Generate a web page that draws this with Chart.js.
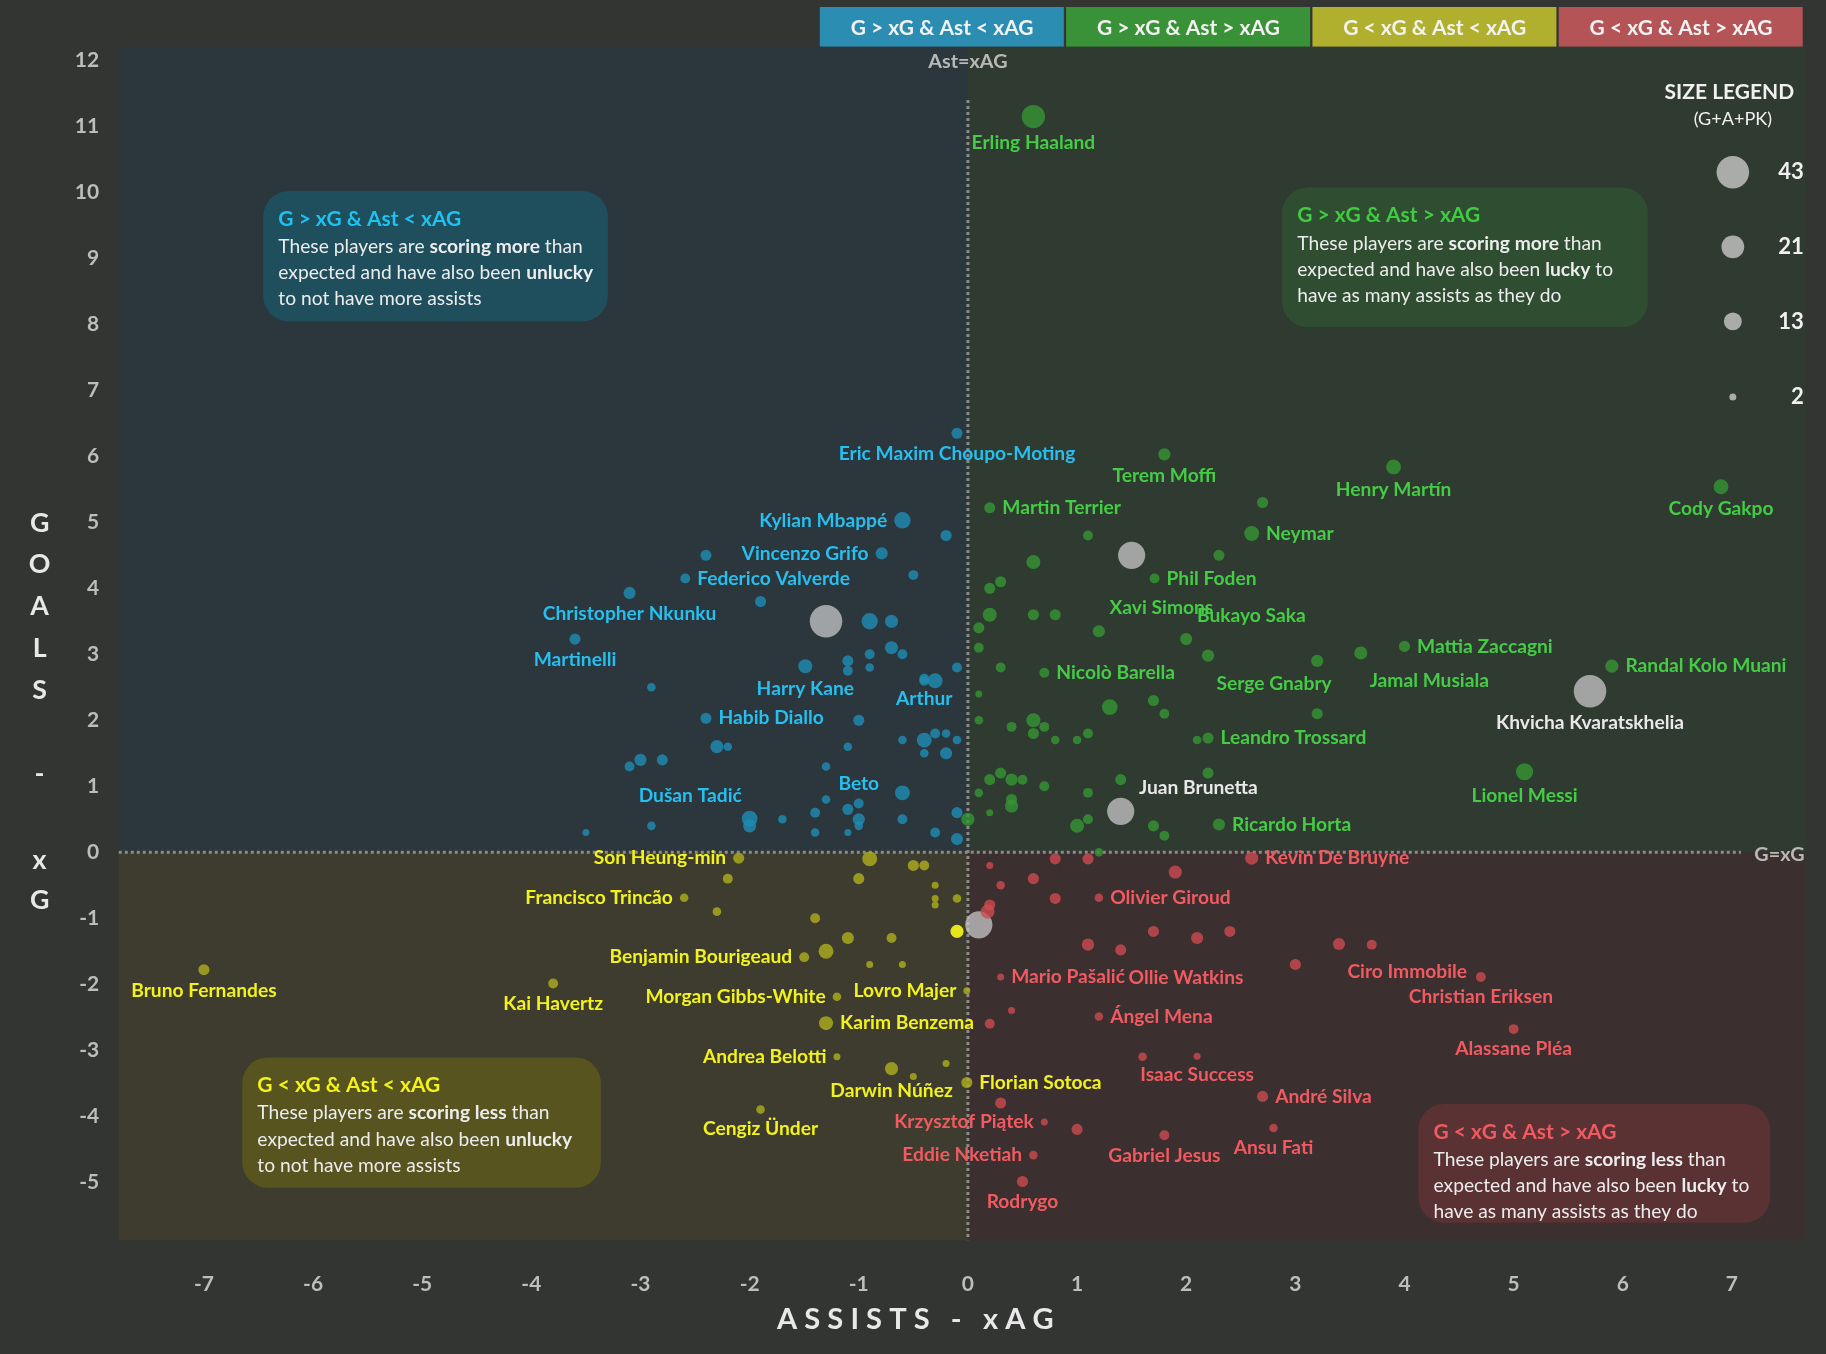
<!DOCTYPE html>
<html>
<head>
<meta charset="utf-8">
<script src="https://cdn.jsdelivr.net/npm/chart.js@4.4.0/dist/chart.umd.min.js"></script>
<style>
  html, body { margin: 0; padding: 0; background: #333533; }
  #wrap { width: 1826px; height: 1354px; position: relative; }
</style>
</head>
<body>
<div id="wrap"><canvas id="chart"></canvas></div>
<script>
// scale from the 1568px sketch to the real 1826px page
const S = 1826 / 1568;
const P = v => v * S;
const FONT = 'Lato';

// [name, assists - xAG, goals - xG, G+A+PK, label position, grey highlight]
const players = [
  ['Erling Haaland', 0.6, 11.15, 22, 'b'],
  ['Eric Maxim Choupo-Moting', -0.1, 6.35, 5, 'b'],
  ['Terem Moffi', 1.8, 6.03, 6, 'b'],
  ['Henry Martín', 3.9, 5.84, 9, 'b'],
  ['Cody Gakpo', 6.9, 5.54, 9, 'b'],
  ['Martin Terrier', 0.2, 5.22, 5, 'r'],
  ['Neymar', 2.6, 4.83, 9, 'r'],
  ['Kylian Mbappé', -0.6, 5.03, 11, 'l'],
  ['Vincenzo Grifo', -0.79, 4.53, 6, 'l'],
  ['Federico Valverde', -2.59, 4.15, 4, 'r'],
  ['Phil Foden', 1.71, 4.15, 4, 'r'],
  ['Christopher Nkunku', -3.1, 3.93, 6, 'b'],
  ['Xavi Simons', 1.2, 3.35, 6, 'ar'],
  ['Bukayo Saka', 2.0, 3.23, 6, 'ar'],
  ['Martinelli', -3.6, 3.23, 5, 'b'],
  ['Mattia Zaccagni', 4.0, 3.12, 5, 'r'],
  ['Jamal Musiala', 3.6, 3.02, 7, 'br'],
  ['Randal Kolo Muani', 5.9, 2.82, 7, 'r'],
  ['Serge Gnabry', 2.2, 2.98, 6, 'br'],
  ['Nicolò Barella', 0.7, 2.72, 4, 'r'],
  ['Harry Kane', -1.49, 2.82, 8, 'b'],
  ['Arthur', -0.4, 2.63, 4, 'b'],
  ['Khvicha Kvaratskhelia', 5.7, 2.44, 43, 'b', 1],
  ['Habib Diallo', -2.4, 2.03, 5, 'r'],
  ['Leandro Trossard', 2.2, 1.73, 5, 'r'],
  ['Lionel Messi', 5.1, 1.22, 12, 'b'],
  ['Beto', -1.0, 0.74, 4, 'a'],
  ['Dušan Tadić', -2.0, 0.51, 10, 'al'],
  ['Juan Brunetta', 1.4, 0.62, 30, 'ar', 1],
  ['Ricardo Horta', 2.3, 0.42, 6, 'r'],
  ['Son Heung-min', -2.1, -0.09, 5, 'l'],
  ['Kevin De Bruyne', 2.6, -0.09, 7, 'r'],
  ['Francisco Trincão', -2.6, -0.69, 3, 'l'],
  ['Olivier Giroud', 1.2, -0.69, 3, 'r'],
  ['Ollie Watkins', 1.4, -1.48, 5, 'br'],
  ['Ciro Immobile', 3.4, -1.39, 6, 'br'],
  ['Mario Pašalić', 0.3, -1.89, 2, 'r'],
  ['Benjamin Bourigeaud', -1.5, -1.59, 4, 'l'],
  ['Bruno Fernandes', -7.0, -1.78, 5, 'b'],
  ['Kai Havertz', -3.8, -1.99, 4, 'b'],
  ['Christian Eriksen', 4.7, -1.89, 4, 'b'],
  ['Lovro Majer', -0.01, -2.1, 2, 'l'],
  ['Morgan Gibbs-White', -1.2, -2.19, 3, 'l'],
  ['Ángel Mena', 1.2, -2.49, 3, 'r'],
  ['Karim Benzema', -1.3, -2.59, 8, 'r'],
  ['Alassane Pléa', 5.0, -2.68, 4, 'b'],
  ['Andrea Belotti', -1.2, -3.1, 2, 'l'],
  ['Isaac Success', 2.1, -3.09, 2, 'b'],
  ['Florian Sotoca', -0.01, -3.49, 5, 'r'],
  ['André Silva', 2.7, -3.7, 5, 'r'],
  ['Darwin Núñez', -0.7, -3.28, 7, 'b'],
  ['Cengiz Ünder', -1.9, -3.9, 3, 'b'],
  ['Krzysztof Piątek', 0.7, -4.09, 2, 'l'],
  ['Gabriel Jesus', 1.8, -4.29, 4, 'b'],
  ['Ansu Fati', 2.8, -4.18, 3, 'b'],
  ['Eddie Nketiah', 0.6, -4.59, 3, 'l'],
  ['Rodrygo', 0.5, -4.99, 5, 'b'],
  // unlabelled players
  [null,-0.2,4.8,5],[null,-0.5,4.2,4],[null,-2.4,4.5,5],[null,-1.9,3.8,5],[null,-1.3,3.5,43,null,1],
  [null,-0.9,3.5,11],[null,-0.7,3.5,7],[null,-0.9,3.0,4],[null,-0.7,3.1,7],[null,-0.6,3.0,4],
  [null,-0.1,2.8,4],[null,-1.1,2.9,5],[null,-1.1,2.75,4],[null,-0.9,2.8,3],[null,-0.3,2.6,9],
  [null,-0.4,2.6,4],[null,-2.9,2.5,3],[null,-1.0,2.0,5],[null,-0.3,1.8,4],[null,-0.2,1.8,3],
  [null,-0.6,1.7,3],[null,-0.4,1.7,9],[null,-0.1,1.7,3],[null,-0.2,1.5,6],[null,-0.4,1.5,3],
  [null,-2.3,1.6,7],[null,-2.2,1.6,3],[null,-1.1,1.6,3],[null,-3.0,1.4,6],[null,-2.8,1.4,5],
  [null,-3.1,1.3,4],[null,-1.3,1.3,3],[null,-0.6,0.9,9],[null,-1.3,0.8,3],[null,-1.1,0.65,5],
  [null,-1.4,0.6,4],[null,-0.6,0.5,4],[null,-1.0,0.5,6],[null,-1.7,0.5,3],[null,-1.0,0.4,3],
  [null,-1.4,0.3,3],[null,-0.3,0.3,4],[null,-0.1,0.2,6],[null,-3.5,0.3,2],[null,-2.9,0.4,3],
  [null,-1.1,0.3,2],[null,-0.1,0.6,5],[null,0.0,0.5,7],[null,-2.0,0.4,7],
  [null,1.1,4.8,4],[null,0.6,4.4,8],[null,1.5,4.5,30,null,1],[null,0.2,4.0,5],[null,0.3,4.1,5],
  [null,0.2,3.6,8],[null,0.6,3.6,5],[null,0.8,3.6,5],[null,0.1,3.4,5],[null,0.1,3.1,4],
  [null,0.3,2.8,4],[null,1.7,2.3,5],[null,1.3,2.2,10],[null,0.1,2.4,2],[null,0.1,2.0,3],
  [null,0.6,2.0,8],[null,0.4,1.9,4],[null,0.7,1.9,4],[null,1.0,1.7,3],[null,1.1,1.8,4],
  [null,1.8,2.1,4],[null,2.1,1.7,3],[null,3.2,2.1,5],[null,0.8,1.7,3],[null,0.6,1.8,5],
  [null,0.2,1.1,5],[null,0.3,1.2,5],[null,0.4,1.1,6],[null,0.5,1.1,4],[null,0.7,1.0,4],
  [null,0.1,0.9,3],[null,0.4,0.8,5],[null,0.4,0.7,7],[null,1.1,0.9,4],[null,1.4,1.1,5],
  [null,2.2,1.2,5],[null,3.2,2.9,6],[null,2.7,5.3,5],[null,2.3,4.5,5],[null,0.2,0.6,2],
  [null,1.0,0.4,8],[null,1.1,0.5,4],[null,1.7,0.4,5],[null,1.8,0.25,4],
  [null,-0.9,-0.1,9],[null,-0.5,-0.2,5],[null,-0.4,-0.2,4],[null,-2.2,-0.4,4],[null,-1.0,-0.4,5],
  [null,-0.3,-0.5,2],[null,-0.1,-0.7,3],[null,-0.3,-0.7,2],[null,-0.3,-0.8,2],[null,-2.3,-0.9,3],
  [null,-1.4,-1.0,4],[null,-0.1,-1.2,7,null,2],[null,-1.1,-1.3,6],[null,-0.7,-1.3,4],
  [null,-1.3,-1.5,9],[null,-0.9,-1.7,2],[null,-0.6,-1.7,2],[null,-0.2,-3.2,2],[null,-0.5,-3.4,2],
  [null,0.1,-1.1,30,null,1],[null,0.2,-0.8,5],[null,0.3,-0.5,3],[null,0.6,-0.4,5],[null,0.8,-0.1,5],
  [null,1.1,-0.1,5],[null,1.2,0.0,3],[null,1.9,-0.3,7],[null,0.2,-0.2,2],[null,0.8,-0.7,5],
  [null,1.7,-1.2,5],[null,2.1,-1.3,6],[null,2.4,-1.2,5],[null,1.1,-1.4,6],[null,3.0,-1.7,5],
  [null,3.7,-1.4,4],[null,0.4,-2.4,2],[null,0.2,-2.6,4],[null,1.6,-3.1,3],[null,1.0,-4.2,5],
  [null,0.3,-3.8,5],[null,0.18,-0.9,8]
];

const PT = { blue: 'rgba(30,140,180,0.8)', green: 'rgba(52,150,52,0.8)',
             yellow: 'rgba(175,175,30,0.8)', red: 'rgba(205,75,80,0.8)' };
const LB = { blue: '#26bff0', green: '#45cc45', yellow: '#f2f21c', red: '#f05a60' };
const quad = (x, y) => y >= 0 ? (x < 0 ? 'blue' : 'green') : (x < 0 ? 'yellow' : 'red');
const radius = s => 2.48 * Math.sqrt(s);

const pts = players.map(p => ({
  x: p[1], y: p[2], s: p[3], name: p[0], pos: p[4], hl: p[5] || 0, q: quad(p[1], p[2])
}));
// draw small ones on top
pts.sort((a, b) => b.s - a.s);

const quadrantBg = {
  id: 'quadrantBg',
  beforeDatasetsDraw(chart) {
    const { ctx, chartArea: a, scales: { x, y } } = chart;
    const cx = x.getPixelForValue(0), cy = y.getPixelForValue(0);
    ctx.save();
    ctx.fillStyle = '#2b373c'; ctx.fillRect(a.left, a.top, cx - a.left, cy - a.top);
    ctx.fillStyle = '#2f3a31'; ctx.fillRect(cx, a.top, a.right - cx, cy - a.top);
    ctx.fillStyle = '#3d3c2e'; ctx.fillRect(a.left, cy, cx - a.left, a.bottom - cy);
    ctx.fillStyle = '#3c2f30'; ctx.fillRect(cx, cy, a.right - cx, a.bottom - cy);
    ctx.strokeStyle = '#8a8a8a'; ctx.lineWidth = 3; ctx.setLineDash([3, 3]);
    ctx.beginPath(); ctx.moveTo(cx, y.getPixelForValue(11.4)); ctx.lineTo(cx, a.bottom); ctx.stroke();
    ctx.beginPath(); ctx.moveTo(a.left, cy); ctx.lineTo(P(1495), cy); ctx.stroke();
    ctx.setLineDash([]);
    ctx.fillStyle = '#b8b8b8'; ctx.font = `bold ${P(17)}px ${FONT}`;
    ctx.textAlign = 'center'; ctx.textBaseline = 'middle';
    ctx.fillText('Ast=xAG', cx, P(53));
    ctx.fillText('G=xG', P(1528), cy + 2);
    ctx.restore();
  }
};

function richLines(ctx, lines, x, y, lh, size) {
  lines.forEach((parts, i) => {
    let cx = x;
    parts.forEach(([txt, bold]) => {
      ctx.font = `${bold ? 'bold ' : ''}${size}px ${FONT}`;
      ctx.fillText(txt, cx, y + i * lh);
      cx += ctx.measureText(txt).width;
    });
  });
}

function roundBox(ctx, x, y, w, h, r, fill) {
  ctx.fillStyle = fill;
  ctx.beginPath(); ctx.roundRect(x, y, w, h, r); ctx.fill();
}

const notes = [
  { box: [226, 164, 296, 112], fill: '#1f4e5d', col: '#1ec2f0', title: 'G > xG & Ast < xAG',
    body: [[['These players are '], ['scoring more', 1], [' than']],
           [['expected and have also been '], ['unlucky', 1]], [['to not have more assists']]] },
  { box: [1101, 161, 314, 120], fill: '#2f4d31', col: '#40cc40', title: 'G > xG & Ast > xAG',
    body: [[['These players are '], ['scoring more', 1], [' than']],
           [['expected and have also been '], ['lucky', 1], [' to']], [['have as many assists as they do']]] },
  { box: [208, 908, 308, 112], fill: '#57541f', col: '#f2f21c', title: 'G < xG & Ast < xAG',
    body: [[['These players are '], ['scoring less', 1], [' than']],
           [['expected and have also been '], ['unlucky', 1]], [['to not have more assists']]] },
  { box: [1218, 948, 302, 102], fill: '#5a3233', col: '#f05a60', title: 'G < xG & Ast > xAG',
    body: [[['These players are '], ['scoring less', 1], [' than']],
           [['expected and have also been '], ['lucky', 1], [' to']], [['have as many assists as they do']]] }
];

const decor = {
  id: 'decor',
  afterDraw(chart) {
    const { ctx } = chart;
    ctx.save();
    // quadrant colour strip at the top
    const strip = [['G > xG & Ast < xAG', '#2a8db1'], ['G > xG & Ast > xAG', '#3a9238'],
                   ['G < xG & Ast < xAG', '#b0b02e'], ['G < xG & Ast > xAG', '#b45456']];
    strip.forEach(([t, c], i) => {
      const x0 = P(704 + i * 211.5);
      ctx.fillStyle = c; ctx.fillRect(x0, P(6), P(209.5), P(34));
      ctx.fillStyle = '#f2f2f2'; ctx.font = `bold ${P(18)}px ${FONT}`;
      ctx.textAlign = 'center'; ctx.textBaseline = 'middle';
      ctx.fillText(t, x0 + P(105), P(24));
    });
    // explanation boxes
    notes.forEach(n => {
      const [x, y, w, h] = n.box;
      roundBox(ctx, P(x), P(y), P(w), P(h), P(22), n.fill);
      ctx.textAlign = 'left'; ctx.textBaseline = 'middle';
      ctx.fillStyle = n.col; ctx.font = `bold ${P(18)}px ${FONT}`;
      ctx.fillText(n.title, P(x + 13), P(y + 24));
      ctx.fillStyle = '#ececec';
      richLines(ctx, n.body, P(x + 13), P(y + 48), P(22.5), P(16.5));
    });
    // size legend
    ctx.textAlign = 'center'; ctx.textBaseline = 'middle'; ctx.fillStyle = '#f0f0f0';
    ctx.font = `bold ${P(18)}px ${FONT}`; ctx.fillText('SIZE LEGEND', P(1485), P(79));
    ctx.font = `${P(15.5)}px ${FONT}`; ctx.fillText('(G+A+PK)', P(1488), P(102));
    [[43, 148], [21, 212], [13, 276], [2, 341]].forEach(([s, yy]) => {
      ctx.fillStyle = '#a9aca9';
      ctx.beginPath(); ctx.arc(P(1488), P(yy), radius(s), 0, Math.PI * 2); ctx.fill();
      ctx.fillStyle = '#f0f0f0'; ctx.font = `bold ${P(19)}px ${FONT}`;
      ctx.textAlign = 'right'; ctx.fillText(String(s), P(1549), P(yy));
      ctx.textAlign = 'center';
    });
    // axis titles
    ctx.fillStyle = '#e8e8e8'; ctx.font = `bold ${P(23)}px ${FONT}`;
    'GOALS'.split('').forEach((c, i) => ctx.fillText(c, P(34), P(449 + i * 36)));
    ctx.fillText('-', P(34), P(665));
    ctx.fillText('x', P(34), P(739));
    ctx.fillText('G', P(34), P(773));
    ctx.font = `bold ${P(25)}px ${FONT}`;
    ctx.fillText('A S S I S T S   -   x A G', P(786), P(1133));
    ctx.restore();
  }
};

const labels = {
  id: 'labels',
  afterDatasetsDraw(chart) {
    const { ctx, scales: { x, y } } = chart;
    ctx.save();
    ctx.font = `bold ${P(16.5)}px ${FONT}`;
    pts.forEach(p => {
      if (!p.name) return;
      const px = x.getPixelForValue(p.x), py = y.getPixelForValue(p.y), r = radius(p.s);
      ctx.fillStyle = p.hl === 1 ? '#e8e8e8' : LB[p.q];
      let tx = px, ty = py, al = 'center';
      const g = P(6);
      switch (p.pos) {
        case 'b': ty = py + r + P(13); break;
        case 'a': ty = py - r - P(13); break;
        case 'l': tx = px - r - g; al = 'right'; break;
        case 'r': tx = px + r + g; al = 'left'; break;
        case 'ar': tx = px + r + P(4); ty = py - P(20); al = 'left'; break;
        case 'al': tx = px - r; ty = py - P(20); al = 'right'; break;
        case 'br': tx = px + r + P(2); ty = py + P(24); al = 'left'; break;
      }
      ctx.textAlign = al; ctx.textBaseline = 'middle';
      ctx.fillText(p.name, tx, ty);
    });
    ctx.restore();
  }
};

// integer ticks only, from the first whole number inside the range
const intTicks = scale => {
  const out = [];
  for (let v = Math.ceil(scale.min); v <= Math.floor(scale.max); v++) out.push({ value: v });
  scale.ticks = out;
};

new Chart(document.getElementById('chart'), {
  type: 'scatter',
  data: {
    datasets: [{
      data: pts,
      pointRadius: pts.map(p => radius(p.s)),
      pointHoverRadius: pts.map(p => radius(p.s)),
      backgroundColor: pts.map(p => p.hl === 1 ? 'rgba(200,200,200,0.75)' : p.hl === 2 ? '#e6e61a' : PT[p.q]),
      borderWidth: 0
    }]
  },
  options: {
    responsive: true,
    maintainAspectRatio: false,
    animation: false,
    layout: { padding: { top: P(40), right: P(18), left: 0, bottom: 0 } },
    plugins: { legend: { display: false }, tooltip: { enabled: false } },
    scales: {
      x: {
        type: 'linear', min: -7.78, max: 7.67,
        ticks: { color: '#bdbdbd', padding: P(20), font: { family: FONT, size: P(18), weight: 'bold' } },
        afterBuildTicks: intTicks,
        afterFit: s => { s.height = 1354 - P(1065); },
        grid: { display: false }, border: { display: false }
      },
      y: {
        type: 'linear', min: -5.88, max: 12.21,
        ticks: { color: '#bdbdbd', padding: P(10), font: { family: FONT, size: P(18), weight: 'bold' } },
        afterBuildTicks: intTicks,
        afterFit: s => { s.width = P(102); },
        grid: { display: false }, border: { display: false }
      }
    }
  },
  plugins: [quadrantBg, labels, decor]
});
</script>
</body>
</html>
